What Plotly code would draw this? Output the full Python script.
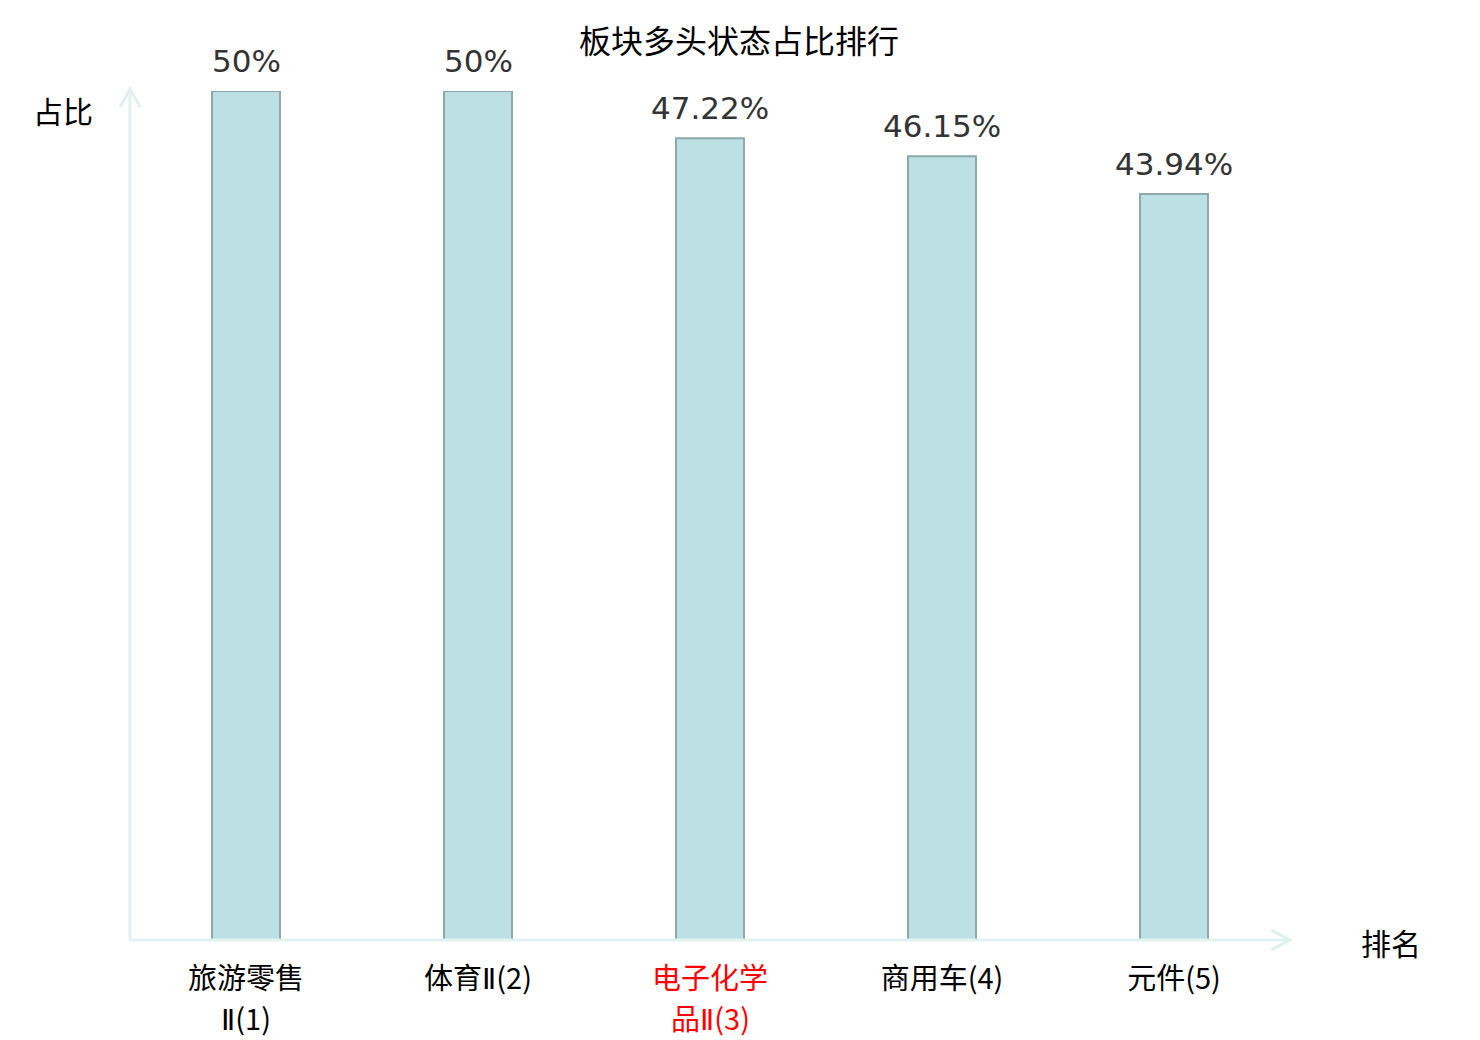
import plotly.graph_objects as go

# chart data
categories = ["旅游零售Ⅱ(1)", "体育Ⅱ(2)", "电子化学品Ⅱ(3)", "商用车(4)", "元件(5)"]
tick_line1 = ["旅游零售", "体育Ⅱ(2)", "电子化学", "商用车(4)", "元件(5)"]
tick_line2 = ["Ⅱ(1)", "", "品Ⅱ(3)", "", ""]
tick_colors = ["#000000", "#000000", "#ff0000", "#000000", "#000000"]
values = [50, 50, 47.22, 46.15, 43.94]
value_labels = ["50%", "50%", "47.22%", "46.15%", "43.94%"]

W, H = 1480, 1040
OFF = 8  # page body margin
M = dict(l=130 - OFF, r=190 + OFF, t=91 - OFF, b=100 + OFF)
PW = W - M["l"] - M["r"]
PH = H - M["t"] - M["b"]

AXIS_COLOR = "#dff2f0"
CJK = "Noto Sans CJK SC"
LATIN = "DejaVu Sans"


def px_x(p):
    # screen pixel -> paper x
    return (p - OFF - M["l"]) / PW


def px_y(p):
    # screen pixel -> paper y
    return (H - M["b"] - (p - OFF)) / PH


def fmt(s, color):
    s = s.replace("Ⅱ", f"<span style='font-family:{LATIN}'>Ⅱ</span>")
    return f"<span style='color:{color}'>{s}</span>"


fig = go.Figure()
fig.add_trace(
    go.Bar(
        x=categories,
        y=values,
        width=0.293,
        marker=dict(color="#bce0e3", line=dict(color="#8fa8aa", width=2)),
        hoverinfo="skip",
    )
)

for cat, v, lab in zip(categories, values, value_labels):
    fig.add_annotation(
        x=cat, y=v, text=lab, showarrow=False,
        yanchor="bottom", yshift=10,
        font=dict(family=LATIN, size=31, color="#333333"),
    )

# second line of wrapped category names
for cat, t, c in zip(categories, tick_line2, tick_colors):
    if t:
        fig.add_annotation(
            x=cat, y=0, text=fmt(t, c), showarrow=False,
            xanchor="center", yanchor="middle", yshift=-77,
            font=dict(family=CJK, size=29, color=c),
        )

# axis lines with open arrow heads
line = dict(color=AXIS_COLOR, width=3)
fig.add_shape(type="line", xref="paper", yref="paper",
              x0=0, y0=0, x1=0, y1=px_y(89), line=line)
fig.add_shape(type="line", xref="paper", yref="paper",
              x0=0, y0=0, x1=px_x(1290), y1=0, line=line)
fig.add_shape(
    type="path", xref="paper", yref="paper",
    path=f"M {px_x(120)},{px_y(107)} L {px_x(130)},{px_y(89)} L {px_x(140)},{px_y(107)}",
    line=line,
)
fig.add_shape(
    type="path", xref="paper", yref="paper",
    path=f"M {px_x(1271)},{px_y(930)} L {px_x(1290)},{px_y(940)} L {px_x(1271)},{px_y(950)}",
    line=line,
)

fig.add_annotation(xref="paper", yref="paper", x=px_x(63), y=px_y(110),
                   xanchor="center", yanchor="middle",
                   text="占比", showarrow=False,
                   font=dict(family=CJK, size=30, color="#000000"))
fig.add_annotation(xref="paper", yref="paper", x=px_x(1391), y=px_y(942),
                   xanchor="center", yanchor="middle",
                   text="排名", showarrow=False,
                   font=dict(family=CJK, size=30, color="#000000"))

fig.update_layout(
    width=W, height=H,
    margin=M,
    paper_bgcolor="white", plot_bgcolor="white",
    showlegend=False,
    title=dict(text="板块多头状态占比排行", x=(739 - OFF) / W, xanchor="center",
               y=1 - (42 - OFF) / H, yanchor="middle",
               font=dict(family=CJK, size=32, color="#000000")),
    xaxis=dict(
        tickmode="array", tickvals=categories,
        ticktext=[fmt(t, c) for t, c in zip(tick_line1, tick_colors)],
        showline=False, showgrid=False, zeroline=False,
        ticks="outside", ticklen=13, tickcolor="rgba(0,0,0,0)",
        tickfont=dict(family=CJK, size=29, color="#000000"),
    ),
    yaxis=dict(
        range=[0, 50], showticklabels=False, showgrid=False,
        zeroline=False, showline=False,
    ),
)

fig.write_html("out.html")
